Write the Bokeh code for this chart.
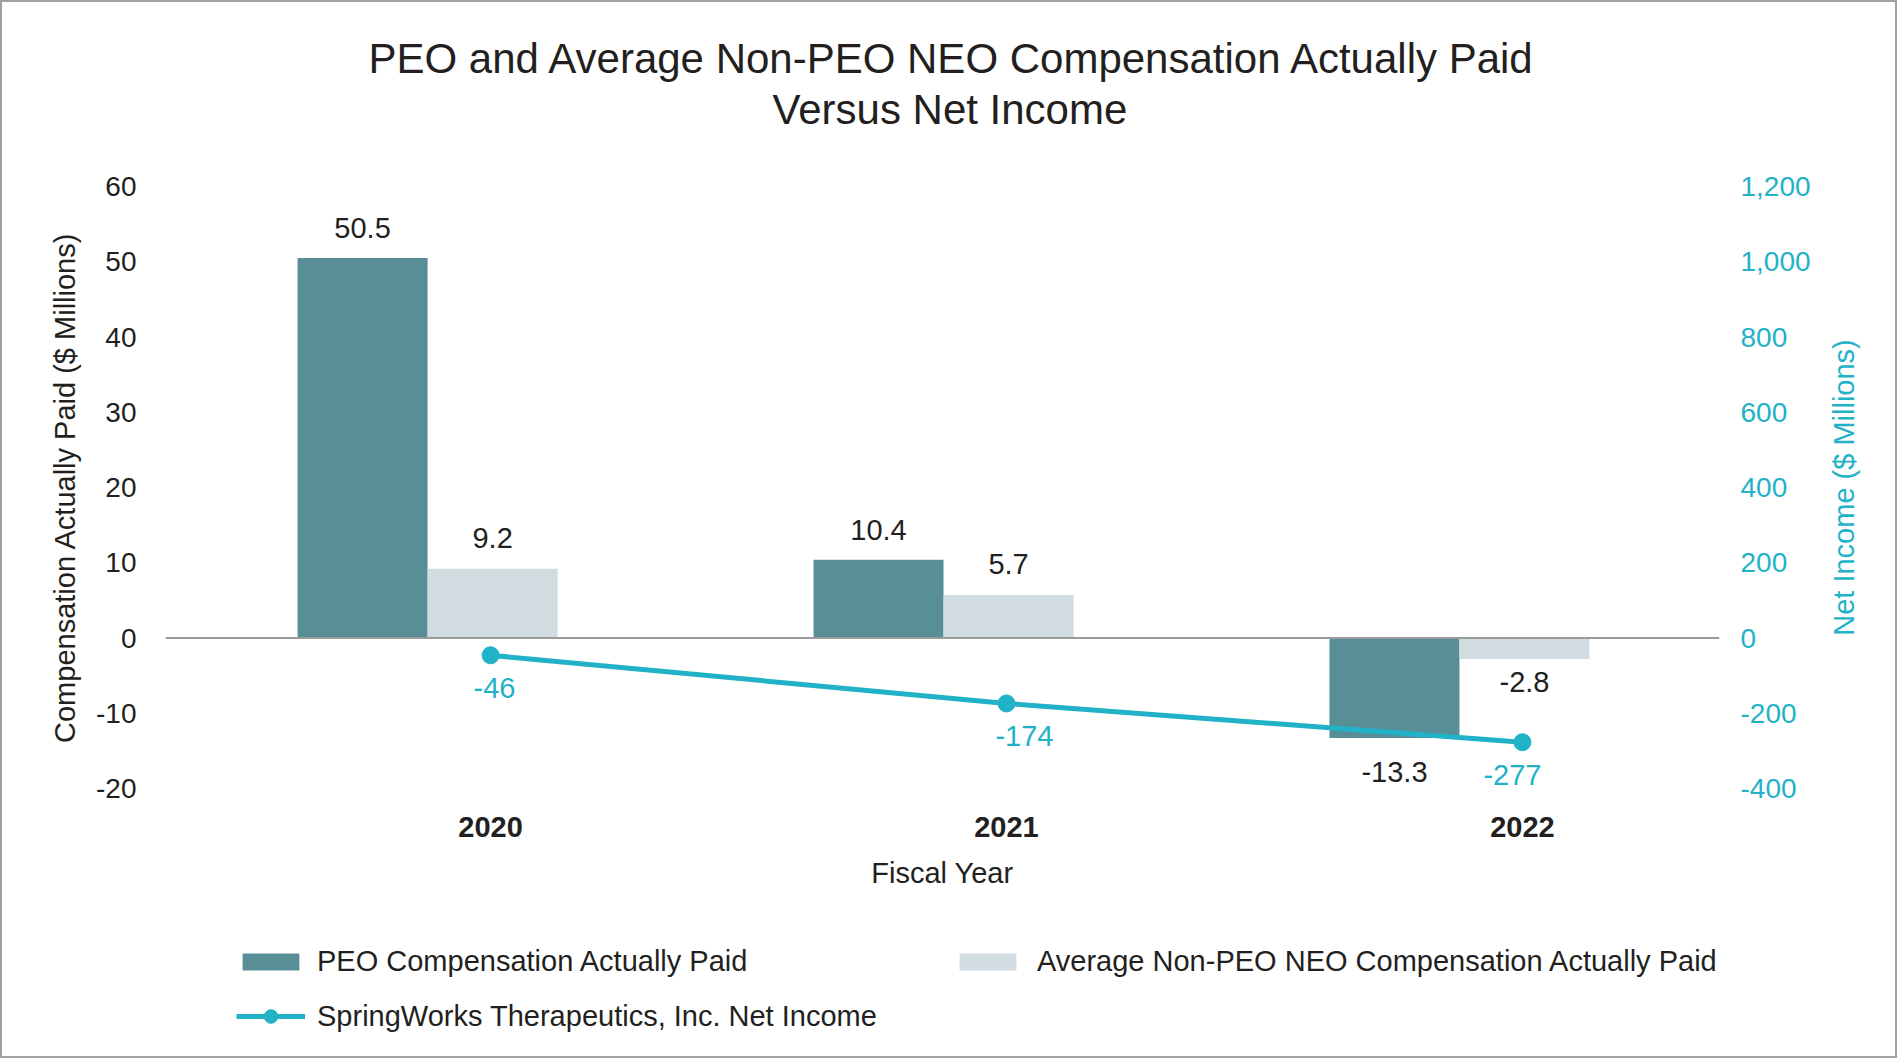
import numpy as np
from bokeh.plotting import figure
from bokeh.layouts import column, row
from bokeh.models import (Range1d, LinearAxis, FixedTicker, NumeralTickFormatter,
                          ColumnDataSource, Legend, LegendItem, Span, Title)
from bokeh.core.properties import value
from bokeh.embed import file_html
from bokeh.resources import INLINE

# ---- data ----
years = ["2020", "2021", "2022"]
peo_cap = [50.5, 10.4, -13.3]          # PEO Compensation Actually Paid ($M)
neo_cap = [9.2, 5.7, -2.8]             # Average Non-PEO NEO CAP ($M)
net_income = [-46, -174, -277]         # Net Income ($M)
left_ticks = [-20, -10, 0, 10, 20, 30, 40, 50, 60]
right_ticks = [-400, -200, 0, 200, 400, 600, 800, 1000, 1200]
title_lines = ["PEO and Average Non-PEO NEO Compensation Actually Paid", "Versus Net Income"]
left_title = "Compensation Actually Paid ($ Millions)"
right_title = "Net Income ($ Millions)"
legend_labels = ["PEO Compensation Actually Paid",
                 "Average Non-PEO NEO Compensation Actually Paid",
                 "SpringWorks Therapeutics, Inc. Net Income"]

# ---- style ----
FONT = "Liberation Sans"
DARK = "#231f20"
TEAL = "#588f96"
LIGHT = "#d0dcdf"
CYAN = "#22b2c7"
ni_label_dx = [4, 18, -10]   # small horizontal nudges of the net-income labels (px)

W_TOTAL, W_RLAB, H_MAIN, H_LEG = 1893, 73, 908, 146
W_MAIN = W_TOTAL - W_RLAB
FR_TOP, FR_BOTTOM = 184, 786

p = figure(width=W_MAIN, height=H_MAIN, output_backend="svg", toolbar_location=None,
           title=None, x_range=Range1d(-0.630, 2.382),
           y_range=Range1d(left_ticks[0], left_ticks[-1]),
           min_border_left=163, min_border_right=W_MAIN - 1717, min_border_top=FR_TOP,
           min_border_bottom=H_MAIN - FR_BOTTOM)
p.extra_y_ranges = {"ni": Range1d(right_ticks[0], right_ticks[-1])}
p.grid.visible = False
p.outline_line_color = None
p.background_fill_color = "white"
p.border_fill_color = "white"

# title (two lines; first added sits closest to the frame)
p.add_layout(Title(text=title_lines[1], align="left", offset=607, text_font=FONT,
                   text_font_size="42px", text_font_style="normal", text_color=DARK,
                   standoff=107), "above")
p.add_layout(Title(text=title_lines[0], align="left", offset=203, text_font=FONT,
                   text_font_size="42px", text_font_style="normal", text_color=DARK,
                   standoff=-103), "above")

# x axis
xa = p.xaxis[0]
xa.ticker = FixedTicker(ticks=list(range(len(years))))
xa.major_label_overrides = {i: y for i, y in enumerate(years)}
xa.axis_line_color = None
xa.major_tick_line_color = None
xa.minor_tick_line_color = None
xa.major_label_text_font = FONT
xa.major_label_text_font_size = "29px"
xa.major_label_text_font_style = "bold"
xa.major_label_text_color = DARK
xa.major_label_standoff = 22
xa.axis_label = "Fiscal Year"
xa.axis_label_text_font = FONT
xa.axis_label_text_font_size = "29px"
xa.axis_label_text_font_style = "normal"
xa.axis_label_text_color = DARK
xa.axis_label_standoff = 17

# left y axis
ya = p.yaxis[0]
ya.ticker = FixedTicker(ticks=left_ticks)
ya.formatter = NumeralTickFormatter(format="0")
ya.axis_line_color = None
ya.major_tick_line_color = None
ya.minor_tick_line_color = None
ya.major_label_text_font = FONT
ya.major_label_text_font_size = "28px"
ya.major_label_text_color = DARK
ya.major_label_standoff = 23
ya.axis_label = left_title
ya.axis_label_text_font = FONT
ya.axis_label_text_font_size = "29px"
ya.axis_label_text_font_style = "normal"
ya.axis_label_text_color = DARK
ya.axis_label_standoff = 12

# right y axis (ticks here; its title is drawn by the narrow strip to the right)
ra = LinearAxis(y_range_name="ni", ticker=FixedTicker(ticks=right_ticks),
                formatter=NumeralTickFormatter(format="0,0"))
ra.axis_line_color = None
ra.major_tick_line_color = None
ra.minor_tick_line_color = None
ra.major_label_text_font = FONT
ra.major_label_text_font_size = "28px"
ra.major_label_text_color = CYAN
ra.major_label_standoff = 15
p.add_layout(ra, "right")

# zero line
p.add_layout(Span(location=0, dimension="width", line_color="#9b9b9b", line_width=2))

# ---- marks ----
idx = np.arange(len(years))
bar_w = 0.252
peo_arr = np.array(peo_cap)
neo_arr = np.array(neo_cap)
src = ColumnDataSource(dict(
    x=idx,
    x_peo=idx - 0.248,
    x_neo=idx + 0.004,
    peo=peo_cap,
    neo=neo_cap,
    ni=net_income,
    peo_lbl=[f"{v:.1f}" for v in peo_cap],
    neo_lbl=[f"{v:.1f}" for v in neo_cap],
    ni_lbl=[f"{v:d}" for v in net_income],
    peo_off=np.where(peo_arr >= 0, -30, 34),
    neo_off=np.where(neo_arr >= 0, -31, 23),
    ni_dx=ni_label_dx,
))

bar_kw = dict(bottom=0, width=bar_w, line_color=None)
p.vbar(x="x_peo", top="peo", fill_color=TEAL, source=src, **bar_kw)
p.vbar(x="x_neo", top="neo", fill_color=LIGHT, source=src, **bar_kw)
line_kw = dict(line_color=CYAN, line_width=5)
pt_kw = dict(marker="circle", size=17, fill_color=CYAN, line_color=CYAN)
p.line(x="x", y="ni", y_range_name="ni", source=src, **line_kw)
p.scatter(x="x", y="ni", y_range_name="ni", source=src, **pt_kw)

lbl_kw = dict(text_align="center", text_baseline="middle", text_font=value(FONT),
              text_font_size="29px")
p.text(x="x_peo", y="peo", text="peo_lbl", y_offset="peo_off", text_color=DARK,
       source=src, **lbl_kw)
p.text(x="x_neo", y="neo", text="neo_lbl", y_offset="neo_off", text_color=DARK,
       source=src, **lbl_kw)
p.text(x="x", y="ni", text="ni_lbl", x_offset="ni_dx", y_offset=33, y_range_name="ni",
       text_color=CYAN, source=src, **lbl_kw)

# ---- narrow strip carrying the right-hand axis title (reads bottom-to-top) ----
r = figure(width=W_RLAB, height=H_MAIN, output_backend="svg", toolbar_location=None,
           title=None, x_range=Range1d(0, 1),
           y_range=Range1d(right_ticks[0], right_ticks[-1]),
           min_border_left=40, min_border_right=0, min_border_top=FR_TOP,
           min_border_bottom=H_MAIN - FR_BOTTOM, x_axis_location=None)
r.grid.visible = False
r.outline_line_color = None
r.background_fill_color = "white"
r.border_fill_color = "white"
rl = r.yaxis[0]
rl.ticker = FixedTicker(ticks=[])
rl.axis_line_color = None
rl.major_tick_line_color = None
rl.minor_tick_line_color = None
rl.major_tick_out = 0
rl.major_label_standoff = 0
rl.axis_label = right_title
rl.axis_label_text_font = FONT
rl.axis_label_text_font_size = "29px"
rl.axis_label_text_font_style = "normal"
rl.axis_label_text_color = CYAN
rl.axis_label_standoff = 3

# ---- legend strip (own figure, proxy glyphs that draw nothing in the frame) ----
q = figure(width=W_TOTAL, height=H_LEG, output_backend="svg", toolbar_location=None,
           title=None, x_range=Range1d(0, 1), y_range=Range1d(0, 1), min_border=0,
           x_axis_location=None, y_axis_location=None)
q.grid.visible = False
q.outline_line_color = None
q.background_fill_color = "white"
q.border_fill_color = "white"

nan = [np.nan]
g_peo = q.vbar(x=nan, top=nan, fill_color=TEAL, **bar_kw)
g_neo = q.vbar(x=nan, top=nan, fill_color=LIGHT, **bar_kw)
g_line = q.line(x=nan, y=nan, **line_kw)
g_pt = q.scatter(x=nan, y=nan, **pt_kw)


def make_legend(label, renderers, loc, gw, gh, standoff):
    lg = Legend(items=[LegendItem(label=label, renderers=renderers)], location=loc,
                orientation="horizontal", padding=0, margin=0, border_line_color=None,
                background_fill_alpha=0, glyph_width=gw, glyph_height=gh,
                label_standoff=standoff, label_text_font=FONT, label_text_font_size="29px",
                label_text_color=DARK, label_height=34)
    q.add_layout(lg)


make_legend(legend_labels[0], [g_peo], (233, 78), 71, 21, 11)
make_legend(legend_labels[1], [g_neo], (950, 78), 71, 21, 14)
make_legend(legend_labels[2], [g_line, g_pt], (234, 23), 69, 34, 12)

layout = column(row(p, r), q, styles={"border": "2px solid #a0a0a0"})
open("out.html", "w").write(file_html(layout, INLINE))
